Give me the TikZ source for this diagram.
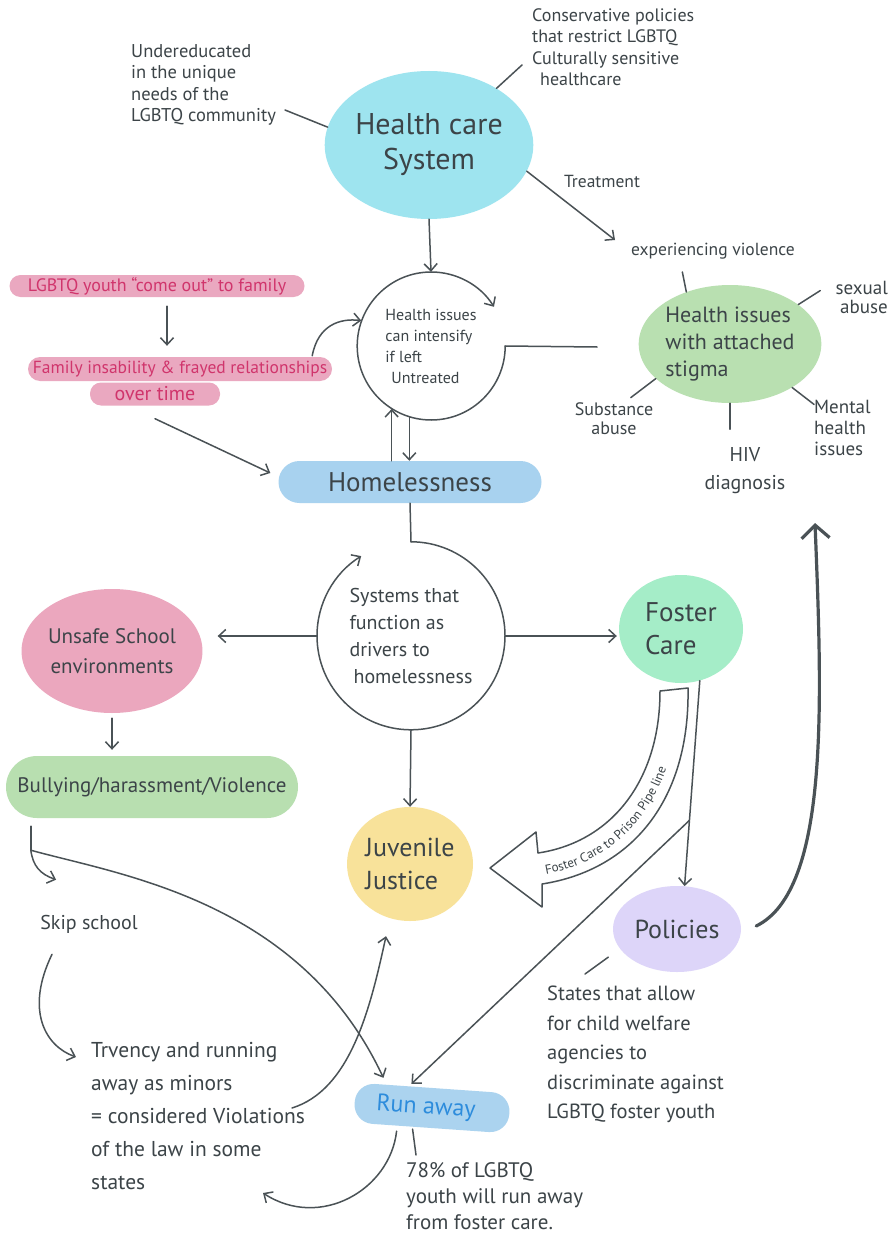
\documentclass[tikz,border=0pt]{standalone}
\usepackage{fontspec}
\setmainfont{PT Sans}
\usetikzlibrary{shapes.geometric,arrows.meta,calc,decorations.text}
\definecolor{inkc}{HTML}{4A5256}
\definecolor{txtc}{HTML}{3C4448}
\definecolor{cyanc}{HTML}{9EE4EF}
\definecolor{greenc}{HTML}{B9E0B1}
\definecolor{pinkc}{HTML}{EAA8C0}
\definecolor{crimc}{HTML}{D0356C}
\definecolor{homec}{HTML}{A8D2EF}
\definecolor{unsafec}{HTML}{EBA7BE}
\definecolor{bullyc}{HTML}{B8DFB0}
\definecolor{fosterc}{HTML}{A5EDC8}
\definecolor{juvc}{HTML}{F8E29A}
\definecolor{polc}{HTML}{DDD5F9}
\definecolor{runc}{HTML}{ABD3EF}
\definecolor{runtc}{HTML}{2D8CDC}
\newcommand\fsz[2]{\fontsize{#1}{#2}\selectfont}
\begin{document}
\begin{tikzpicture}[x=1pt,y=-1pt,
  ink/.style={draw=inkc,line width=1.5pt,line cap=round},
  arr/.style={ink,-{Straight Barb[length=7pt,width=13pt]}},
  blob/.style={ellipse,inner sep=0pt,text=txtc,align=center},
  pill/.style={rectangle,inner sep=0pt,text=txtc},
  lbl/.style={text=txtc,inner sep=0pt,align=left}]
\useasboundingbox[fill=white] (0,0) rectangle (889,1241);

% ---------- Health care system ----------
\node[blob,fill=cyanc,minimum width=198pt,minimum height=148pt,font=\fsz{30}{35}] (hcs) at (429,145) {Health care\\System};
\node[lbl,anchor=north west,font=\fsz{18.5}{21.5}] (under) at (131,44) {Undereducated\\in the unique\\needs of the\\LGBTQ community};
\coordinate (uend) at (285,110);
\draw[ink] (uend) -- (hcs.170);
\node[lbl,anchor=north west,font=\fsz{18}{21.5}] (cons) at (532,8) {Conservative policies\\that restrict LGBTQ\\Culturally sensitive\\\hspace*{8pt}healthcare};
\coordinate (cend) at (522,65);
\draw[ink] (hcs.40) -- (cend);
\coordinate (trt) at (615,240);
\draw[arr] (hcs.-15) -- (trt);
\node[lbl,font=\fsz{17.5}{17.5}] (treatlbl) at (602,181) {Treatment};

% ---------- Health issues circle ----------
\node[circle,minimum size=148pt,inner sep=0pt,text=txtc,align=left,font=\fsz{16}{21}] (hi) at (431,346) {Health issues\\can intensify\\if left\\\hspace*{6pt}Untreated};
\draw[arr] (hi.east) arc[start angle=0,end angle=328,radius=74];
\coordinate (hiend) at (597,347);
\draw[ink] (hi.east) -- (hiend);
\draw[arr] (hcs.south) -- (hi.north);

% ---------- Health issues with stigma ----------
\node[blob,fill=greenc,minimum width=178pt,minimum height=118pt,align=left,font=\fsz{22}{27}] (his) at (730,344) {Health issues\\with attached\\stigma};
\node[lbl,font=\fsz{17.5}{20}] (ev) at (713,251) {experiencing violence};
\draw[ink] (his.130) -- ++(-4,-20);
\node[lbl,align=right,anchor=east,font=\fsz{19}{19}] (sa) at (888,297) {sexual\\abuse};
\draw[ink] (his.30) -- ++(22,-14);
\node[lbl,align=center,font=\fsz{18}{19}] (sub) at (614,419) {Substance\\abuse};
\draw[ink] (his.205) -- ++(-25,19);
\node[lbl,align=center,font=\fsz{20}{28}] (hiv) at (745,471) {HIV\\diagnosis};
\draw[ink] (his.south) -- ++(0,26);
\node[lbl,anchor=north west,font=\fsz{19}{21}] (mh) at (814,400) {Mental\\health\\issues};
\draw[ink] (his.-35) -- ++(22,17);

% ---------- Family ----------
\node[pill,fill=pinkc,rounded corners=11pt,minimum width=295pt,minimum height=22pt,text=crimc,font=\fsz{18}{18}] (come) at (157,286) {LGBTQ youth ``come out'' to family};
\node[pill,fill=pinkc,rounded corners=12pt,minimum width=304pt,minimum height=24pt,text=crimc,font=\fsz{17.5}{17.5}] (fam1) at (180,369) {Family insability \& frayed relationships};
\node[pill,fill=pinkc,rounded corners=11pt,minimum width=130pt,minimum height=23pt,text=crimc,font=\fsz{20}{20}] (fam2) at (155,394) {over time};
\draw[arr] ([xshift=10pt,yshift=-9pt]come.south) -- ([xshift=-13pt,yshift=11pt]fam1.north);
\draw[arr] ([xshift=-20pt,yshift=1pt]fam1.north east) .. controls (318,325) and (340,318) .. (hi.160);

% ---------- Homelessness ----------
\node[pill,fill=homec,rounded corners=21pt,minimum width=263pt,minimum height=42pt,font=\fsz{27}{27}] (home) at (410,482) {Homelessness};
\draw[arr] (hi.238 |- home.north) -- (hi.238);
\draw[arr] (hi.253) -- (hi.253 |- home.north);
\draw[arr] ([yshift=-13pt]fam2.south) -- ([xshift=-8pt,yshift=9pt]home.west);

% ---------- Systems circle ----------
\node[circle,minimum size=188pt,inner sep=0pt,text=txtc,align=left,font=\fsz{20}{27}] (sys) at (411,636) {Systems that\\function as\\drivers to\\\hspace*{4pt}homelessness};
\draw[ink] (home.south) -- (sys.north);
\draw[arr] (sys.north) arc[start angle=270,end angle=598,radius=94];

% ---------- School ----------
\node[blob,fill=unsafec,minimum width=152pt,minimum height=124pt,font=\fsz{21}{30}] (unsafe) at (112,651) {Unsafe School\\environments};
\draw[arr,shorten >=15pt] (sys.west) -- (sys.west -| unsafe.east);
\node[pill,fill=bullyc,rounded corners=31pt,minimum width=292pt,minimum height=62pt,font=\fsz{21}{21}] (bully) at (152,787) {Bullying/harassment/Violence};
\draw[arr,shorten <=5pt,shorten >=6pt] (unsafe.south) -- (unsafe.south |- bully.north);

% ---------- Foster, Juvenile, Policies, Run away ----------
\node[blob,fill=fosterc,minimum width=124pt,minimum height=108pt,align=left,font=\fsz{27}{33}] (foster) at (681,629) {Foster\\Care};
\draw[arr,shorten >=2pt] (sys.east) -- (sys.east -| foster.west);
\node[blob,fill=juvc,minimum width=126pt,minimum height=114pt,align=left,font=\fsz{26}{33}] (juv) at (410,864) {Juvenile\\Justice};
\draw[arr] (sys.south) -- (juv.north);
\node[blob,fill=polc,minimum width=128pt,minimum height=86pt,font=\fsz{26}{26}] (pol) at (677,929) {Policies};
\draw[arr] (foster.-70) -- (pol.80);
\coordinate (fork) at ($(foster.-70)!0.68!(pol.80)$);
\node[pill,fill=runc,rotate=-4,rounded corners=19pt,minimum width=155pt,minimum height=40pt,text=runtc,font=\fsz{24}{24}] (run) at (432,1108) {Run away\hspace*{12pt}};
\draw[arr] (fork) -- ([xshift=-22pt,yshift=4pt]run.north);

% pipeline arrow
\draw[ink,fill=white,line join=round] (688,688) .. controls (690,800) and (632,870) .. (542,884) -- (542,907) -- (490,868) -- (536,832) -- (538,853) .. controls (612,842) and (660,780) .. (660,691) -- cycle;
\path[decorate,decoration={text along path,text={|\fsz{13}{13}\color{txtc}|Foster Care to Prison Pipe line}}] (546,874) .. controls (625,860) and (679,792) .. (679,689);

% policies
\draw[ink,line width=3.2pt,-{Straight Barb[length=13pt,width=28pt]}] ([xshift=15pt,yshift=3pt]pol.east) .. controls (830,890) and (822,700) .. (815,523);
\node[lbl,anchor=north west,font=\fsz{20.5}{29.5}] (states) at (547,986) {States that allow\\for child welfare\\agencies to\\discriminate against\\LGBTQ foster youth};
\draw[ink] ([xshift=-20pt]pol.-150) -- ([xshift=38pt,yshift=12pt]states.north west);

% ---------- lower left chain ----------
\node[lbl,font=\fsz{20}{20}] (skip) at (89,924) {Skip school};
\coordinate (bs) at ([xshift=25pt,yshift=-8pt]bully.south west);
\coordinate (split) at ($(bs)+(0,24)$);
\draw[ink] (bs) -- (split);
\draw[arr] (split) .. controls (33,866) and (40,874) .. ([xshift=16pt,yshift=35pt]skip.north west);
\draw[arr] (split) .. controls (120,875) and (300,900) .. ([xshift=-50pt,yshift=10pt]run.north);
\node[lbl,anchor=north west,font=\fsz{21.5}{33}] (truv) at (91,1042) {Trvency and running\\away as minors\\= considered Violations\\of the law in some\\states};
\draw[arr] ([xshift=-37pt,yshift=-21pt]skip.south) .. controls (25,1010) and (45,1046) .. ([xshift=-15pt,yshift=-15pt]truv.north west);
\draw[arr] (292,1108) .. controls (350,1090) and (370,1010) .. ([xshift=-24pt,yshift=-15pt]juv.south);
\coordinate (loopend) at (263,1193);
\draw[arr] ([xshift=-34pt,yshift=-3pt]run.south) .. controls (390,1190) and (320,1230) .. (loopend);
\node[lbl,anchor=north west,font=\fsz{21}{26}] (pct) at (406,1162) {78\% of LGBTQ\\youth will run away\\from foster care.};
\draw[ink] ([xshift=-18pt,yshift=-1pt]run.south) -- ([xshift=10pt,yshift=7pt]pct.north west);
\end{tikzpicture}
\end{document}
